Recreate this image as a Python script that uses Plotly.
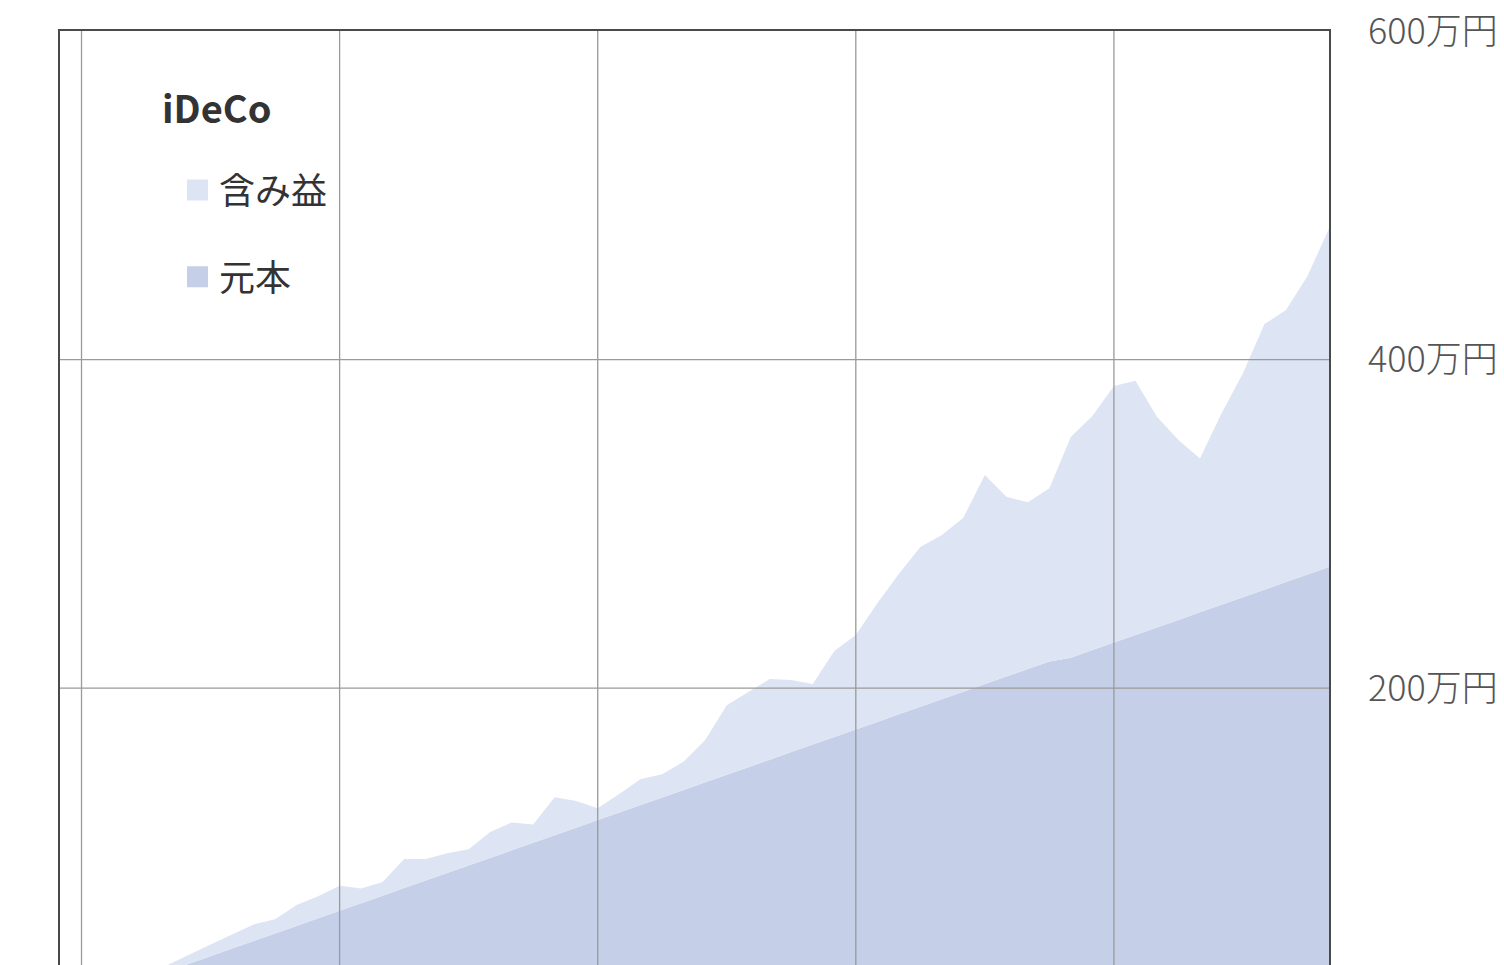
import pandas as pd
import plotly.graph_objects as go

# ---- data (万円) ----
months = [d.strftime("%Y-%m") for d in pd.date_range("2020-12-01", periods=60, freq="MS")]

principal = [
    4.6, 9.2, 13.8, 18.4, 23.0, 27.6, 32.2, 36.8, 41.4, 46.0,
    50.6, 55.2, 59.8, 64.4, 69.0, 73.6, 78.2, 82.8, 87.4, 92.0,
    96.6, 101.2, 105.8, 110.4, 115.0, 119.6, 124.2, 128.8, 133.4, 138.0,
    142.6, 147.2, 151.8, 156.4, 161.0, 165.6, 170.2, 174.8, 179.4, 184.0,
    188.6, 193.2, 197.8, 202.4, 207.0, 211.6, 216.2, 218.5, 223.1, 227.7,
    232.3, 236.9, 241.5, 246.1, 250.7, 255.3, 259.9, 264.5, 269.1, 273.7,
]

gain = [
    0.1, 0.3, 0.8, 1.5, 2.4, 3.8, 5.5, 7.1, 8.6, 10.1,
    8.6, 12.7, 13.5, 15.2, 9.0, 8.4, 17.7, 13.1, 12.1, 9.9,
    15.7, 17.0, 11.2, 23.1, 16.2, 7.2, 11.3, 15.8, 14.1, 17.3,
    25.7, 42.4, 45.8, 49.1, 43.9, 36.8, 52.3, 57.5, 72.3, 85.4,
    97.2, 100.0, 105.9, 127.3, 109.5, 101.5, 105.4, 134.5, 142.5, 156.2,
    154.8, 128.3, 109.5, 93.6, 116.5, 136.3, 161.7, 165.6, 181.7, 206.1,
]

y_ticks = [200, 400, 600]
y_tick_labels = ["200万円", "400万円", "600万円"]
legend_title = "iDeCo"
name_gain = "含み益"
name_principal = "元本"

# ---- styles ----
FONT = "Noto Sans CJK JP"
COLOR_GAIN = "#DDE4F3"
COLOR_PRINCIPAL = "#C5CFE8"
GRID = "#9a9a9a"
FRAME = "#4a4a4a"

# page body has an 8px margin; figure is sized so the page is filled
OFF = 8
W, H = 1504 - OFF, 965 - OFF
PL, PT = 60, 31            # plot area top-left on the page
PW, PH = 1269, 934         # plot area size
M_L, M_T = PL - OFF, PT - OFF
M_R, M_B = W - M_L - PW, H - M_T - PH


def px(xp):
    return (xp - PL) / PW


def py(yp):
    return 1 - (yp - PT) / PH


fig = go.Figure()

# stacked areas
fig.add_trace(go.Scatter(
    x=months, y=principal, name=name_principal, stackgroup="total",
    mode="none", fillcolor=COLOR_PRINCIPAL, showlegend=False,
))
fig.add_trace(go.Scatter(
    x=months, y=gain, name=name_gain, stackgroup="total",
    mode="none", fillcolor=COLOR_GAIN, showlegend=False,
))

# legend entries (square swatches)
for grp, nm, col in [("g1", name_gain, COLOR_GAIN), ("g2", name_principal, COLOR_PRINCIPAL)]:
    fig.add_trace(go.Scatter(
        x=[None], y=[None], mode="markers", name=nm, legendgroup=grp,
        marker=dict(symbol="square", size=16, color=col, line=dict(color=col, width=5)),
        showlegend=True, hoverinfo="skip",
    ))

# gridlines drawn above the areas
jan_ticks = [m for m in months if m.endswith("-01")]
for m in jan_ticks:
    fig.add_shape(type="line", xref="x", yref="paper", x0=m, x1=m, y0=0, y1=1,
                  line=dict(color=GRID, width=1.3), layer="above")
for v in y_ticks[:-1]:
    fig.add_shape(type="line", xref="paper", yref="y", x0=0, x1=1, y0=v, y1=v,
                  line=dict(color=GRID, width=1.3), layer="above")

# legend heading
fig.add_annotation(
    text=f"<b>{legend_title}</b>", xref="paper", yref="paper",
    x=px(160), y=py(107), xanchor="left", yanchor="middle", showarrow=False,
    font=dict(size=38, color="#333", family=FONT),
)

fig.update_layout(
    width=W, height=H,
    margin=dict(l=M_L, r=M_R, t=M_T, b=M_B, pad=0, autoexpand=False),
    paper_bgcolor="white", plot_bgcolor="white",
    font=dict(family=FONT, color="#444"),
    showlegend=True,
    legend=dict(
        x=px(176), xanchor="left",
        y=py(160), yanchor="top",
        font=dict(size=36, color="#333", family=FONT),
        bgcolor="rgba(0,0,0,0)", itemwidth=33,
        traceorder="grouped", tracegroupgap=37,
    ),
    xaxis=dict(
        type="category", range=[0, len(months) - 1], side="top",
        showline=True, linecolor=FRAME, linewidth=1.5,
        showgrid=False, zeroline=False, showticklabels=False, ticks="",
        tickvals=jan_ticks, fixedrange=True,
    ),
    yaxis=dict(
        side="right", range=[31.4, 600],
        showline=True, mirror=True, linecolor=FRAME, linewidth=1.5,
        showgrid=False, zeroline=False, ticks="",
        tickvals=y_ticks, ticktext=y_tick_labels,
        tickfont=dict(size=36, color="#555", family=FONT, weight=300),
        ticklabelstandoff=30, ticklabeloverflow="allow",
        layer="below traces", fixedrange=True, automargin=False,
    ),
)

fig.write_html("out.html")
